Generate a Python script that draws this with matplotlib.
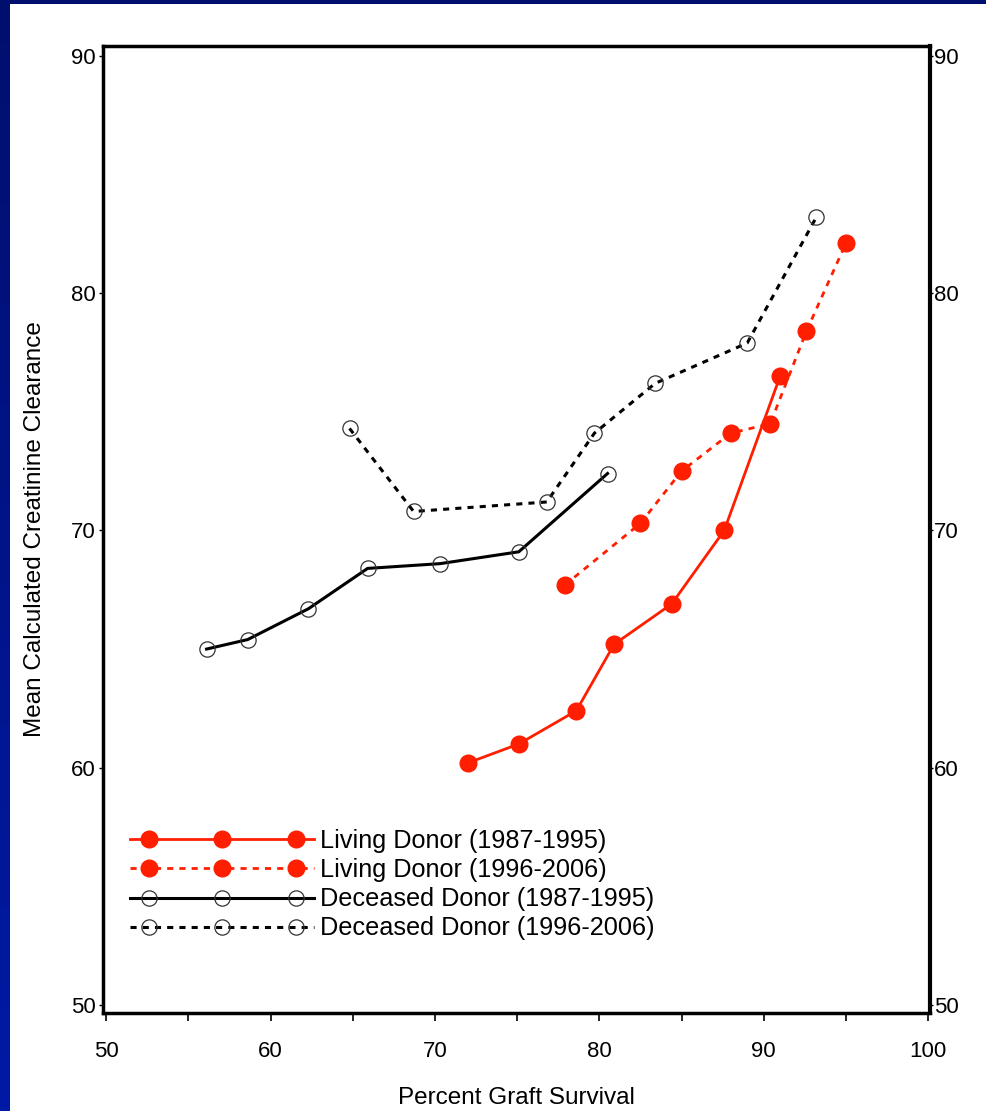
import numpy as np
import matplotlib
matplotlib.use('Agg')
import matplotlib.pyplot as plt
from matplotlib.legend_handler import HandlerLine2DCompound

plt.rcParams['font.family'] = ['Liberation Sans', 'DejaVu Sans']

# percent graft survival (x) and mean calculated creatinine clearance (y)
living_old_x = [72.0, 75.1, 78.6, 80.9, 84.4, 87.6, 91.0]
living_old_y = [60.2, 61.0, 62.4, 65.2, 66.9, 70.0, 76.5]

living_new_x = [77.9, 82.5, 85.0, 88.0, 90.4, 92.6, 95.0]
living_new_y = [67.7, 70.3, 72.5, 74.1, 74.5, 78.4, 82.1]

deceased_old_x = [56.1, 58.6, 62.3, 65.9, 70.3, 75.1, 80.5]
deceased_old_y = [65.0, 65.4, 66.7, 68.4, 68.6, 69.1, 72.4]

deceased_new_x = [64.8, 68.7, 76.8, 79.7, 83.4, 89.0, 93.2]
deceased_new_y = [74.3, 70.8, 71.2, 74.1, 76.2, 77.9, 83.2]

labels = ['Living Donor (1987-1995)', 'Living Donor (1996-2006)',
          'Deceased Donor (1987-1995)', 'Deceased Donor (1996-2006)']

red = '#ff1e00'


# legend handle: line runs the full handle width, 3 markers inset from the ends
class FullLineHandler(HandlerLine2DCompound):
    def get_xdata(self, legend, xdescent, ydescent, width, height, fontsize):
        pad = 0.75 * fontsize
        xdata = np.linspace(-xdescent, -xdescent + width, 5)
        xmark = np.linspace(-xdescent + pad, -xdescent + width - pad, 3)
        return xdata, xmark


fig = plt.figure(figsize=(9.86, 11.11), dpi=100)
fig.patch.set_facecolor('white')

# blue slide frame (left strip with gradient, thin top strip)
grad = np.linspace(0, 1, 256).reshape(-1, 1)
navy = matplotlib.colors.LinearSegmentedColormap.from_list('navy', ['#000f6e', '#001aa5'])
band = fig.add_axes([0, 0, 10 / 986, 1])
band.imshow(grad, aspect='auto', cmap=navy)
band.axis('off')
top = fig.add_axes([0, 1 - 4 / 1111, 1, 4 / 1111])
top.imshow(np.zeros((1, 2)), aspect='auto', cmap=navy, vmin=0, vmax=1)
top.axis('off')

ax = fig.add_axes([103 / 986, 1 - 1013 / 1111, 827 / 986, 967 / 1111])

ax.plot(living_old_x, living_old_y, color=red, lw=2.0, marker='o', ms=12,
        mec=red, mfc=red, label=labels[0])
ax.plot(living_new_x, living_new_y, color=red, lw=2.0, ls=(0, (2.2, 2.2)), marker='o', ms=12,
        mec=red, mfc=red, label=labels[1])
ax.plot(deceased_old_x, deceased_old_y, color='black', lw=2.2, marker='o', ms=11,
        mec='#333333', mfc='none', mew=0.9, label=labels[2])
ax.plot(deceased_new_x, deceased_new_y, color='black', lw=2.2, ls=(0, (2.0, 2.0)), marker='o', ms=11,
        mec='#333333', mfc='none', mew=0.9, label=labels[3])

ax.set_xlim(49.8, 100.12)
ax.set_ylim(49.66, 90.42)
ax.set_xticks([50, 60, 70, 80, 90, 100])
ax.set_xticks([55, 65, 75, 85, 95], minor=True)
ax.set_yticks([50, 60, 70, 80, 90])
ax.tick_params(axis='x', which='both', direction='out', length=6, width=1.2,
               pad=14, labelsize=16)
ax.tick_params(axis='y', direction='out', length=3, width=1.0, pad=2, labelsize=16)

for side in ['left', 'bottom', 'top', 'right']:
    ax.spines[side].set_linewidth(2.5)
ax.spines['right'].set_linewidth(3.0)

ax2 = ax.twinx()
ax2.set_ylim(ax.get_ylim())
ax2.set_yticks([50, 60, 70, 80, 90])
ax2.tick_params(axis='y', direction='out', length=2, width=1.0, pad=1, labelsize=16)
for side in ['left', 'bottom', 'top', 'right']:
    ax2.spines[side].set_visible(False)

ax.set_xlabel('Percent Graft Survival', fontsize=17.5, labelpad=18)
ax.set_ylabel('Mean Calculated Creatinine Clearance', fontsize=17.5, labelpad=18)

ax.legend(loc='upper left', bbox_to_anchor=(0.0326, 0.1900), frameon=False,
          fontsize=18.2, numpoints=3, handlelength=7.3, handletextpad=0.2,
          labelspacing=0.2, borderpad=0, borderaxespad=0,
          handler_map={matplotlib.lines.Line2D: FullLineHandler()})

fig.savefig('out.png', dpi=100)
